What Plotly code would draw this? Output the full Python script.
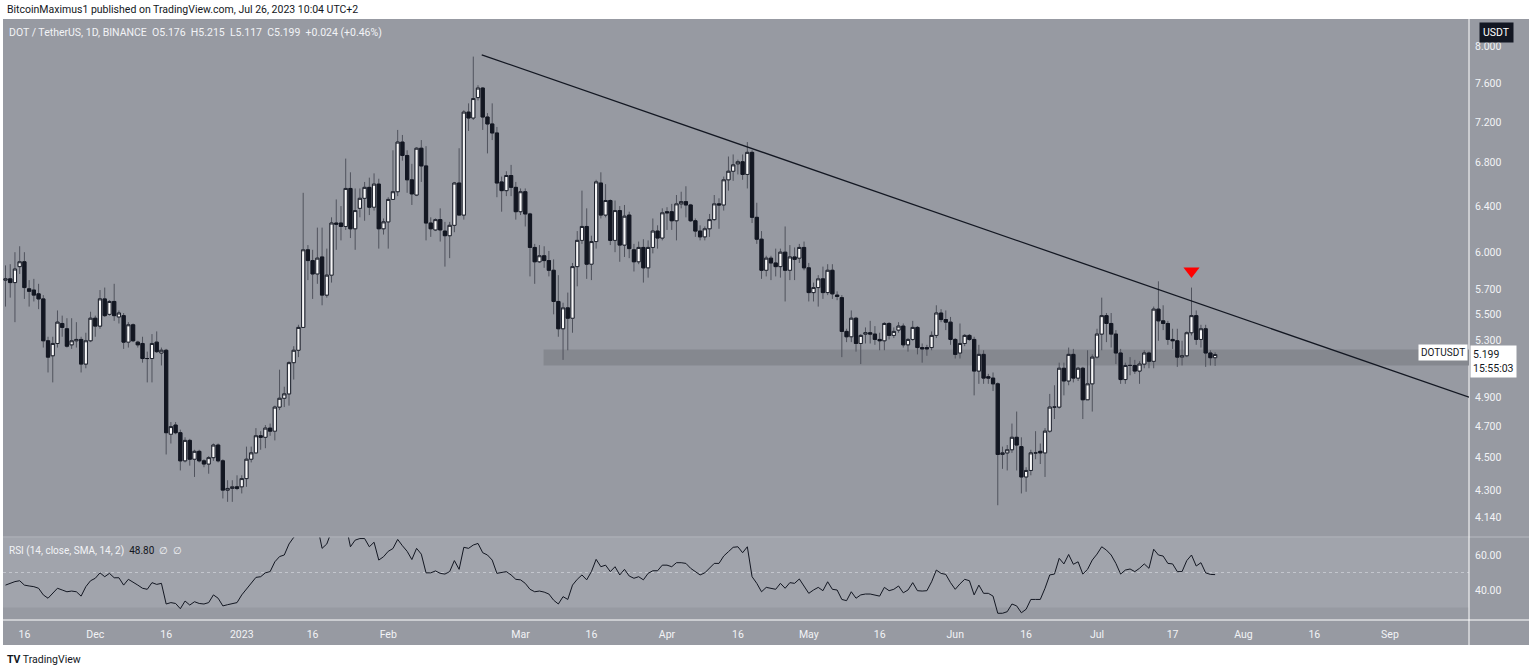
import numpy as np
import pandas as pd
import plotly.graph_objects as go

# ---------------- data ----------------
first_day = "2022-11-12"

opens = [5.77,5.78,5.75,5.88,5.92,5.70,5.69,5.66,5.62,5.30,
         5.19,5.28,5.43,5.39,5.27,5.30,5.31,5.13,5.30,5.47,
         5.41,5.62,5.50,5.60,5.48,5.49,5.29,5.42,5.29,5.28,
         5.17,5.17,5.29,5.21,5.23,4.65,4.71,4.66,4.48,4.61,
         4.49,4.54,4.48,4.46,4.50,4.58,4.48,4.30,4.31,4.32,
         4.32,4.37,4.49,4.53,4.64,4.63,4.69,4.67,4.83,4.89,
         4.92,5.14,5.23,5.40,6.02,5.93,5.82,5.96,5.65,5.81,
         6.25,6.25,6.22,6.56,6.20,6.38,6.47,6.57,6.39,6.60,
         6.20,6.26,6.46,6.53,7.00,6.87,6.64,6.50,6.94,6.77,
         6.25,6.19,6.28,6.18,6.14,6.23,6.61,6.32,7.30,7.24,
         7.45,7.55,7.25,7.18,7.09,6.62,6.54,6.68,6.57,6.35,
         6.53,6.33,6.04,5.92,5.97,5.93,5.85,5.60,5.39,5.55,
         5.47,5.88,6.10,6.22,5.90,6.09,6.61,6.32,6.45,6.10,
         6.36,6.06,6.32,6.02,5.92,6.04,5.87,6.04,6.18,6.12,
         6.35,6.35,6.27,6.42,6.44,6.41,6.27,6.18,6.13,6.20,
         6.28,6.42,6.41,6.64,6.72,6.79,6.81,6.69,6.90,6.30,
         6.11,5.85,5.95,5.91,5.88,6.00,5.85,5.96,5.95,6.04,
         5.87,5.67,5.71,5.78,5.67,5.85,5.65,5.63,5.37,5.33,
         5.47,5.28,5.35,5.36,5.35,5.31,5.30,5.43,5.34,5.38,
         5.41,5.27,5.31,5.40,5.25,5.25,5.25,5.34,5.51,5.46,
         5.44,5.31,5.21,5.28,5.34,5.31,5.08,5.20,5.04,5.03,
         4.99,4.52,4.53,4.55,4.63,4.57,4.38,4.42,4.53,4.54,
         4.53,4.67,4.83,4.83,5.10,5.01,5.20,5.03,5.10,4.88,
         4.99,5.18,5.35,5.49,5.43,5.35,5.21,5.02,5.12,5.12,
         5.08,5.13,5.21,5.15,5.54,5.45,5.43,5.31,5.30,5.18,
         5.19,5.36,5.49,5.31,5.39,5.21,5.176]

highs = [5.89,5.90,6.00,6.05,6.00,5.77,5.78,5.74,5.65,5.33,
         5.33,5.53,5.49,5.47,5.47,5.44,5.33,5.36,5.52,5.49,
         5.69,5.71,5.61,5.74,5.53,5.51,5.44,5.43,5.30,5.33,
         5.22,5.35,5.37,5.25,5.24,4.73,4.73,4.68,4.63,4.62,
         4.55,4.55,4.49,4.51,4.59,4.59,4.49,4.36,4.36,4.39,
         4.39,4.57,4.57,4.69,4.67,4.71,4.72,4.84,5.09,4.97,
         5.15,5.26,5.42,6.52,6.06,6.02,6.21,6.21,6.03,6.30,
         6.46,6.40,6.84,6.71,6.56,6.56,6.62,6.66,6.70,6.65,
         6.29,6.48,6.92,7.12,7.07,6.92,6.79,6.95,7.02,6.96,
         6.30,6.29,6.38,6.26,6.26,6.62,6.94,7.32,7.39,7.89,
         7.58,7.56,7.29,7.39,7.15,6.67,6.72,6.78,6.62,6.56,
         6.56,6.34,6.07,6.06,6.05,6.01,5.94,5.81,5.59,5.67,
         5.91,6.18,6.54,6.38,6.14,6.64,6.71,6.60,6.46,6.45,
         6.40,6.41,6.35,6.07,6.09,6.11,6.10,6.29,6.23,6.38,
         6.39,6.42,6.50,6.53,6.58,6.42,6.29,6.23,6.22,6.33,
         6.50,6.47,6.67,6.86,6.88,6.83,6.88,7.00,6.92,6.43,
         6.18,5.97,5.97,6.03,6.03,6.22,6.06,6.04,6.07,6.09,
         5.91,5.75,5.81,5.88,5.90,5.90,5.68,5.65,5.39,5.53,
         5.48,5.35,5.40,5.45,5.41,5.36,5.44,5.44,5.40,5.44,
         5.43,5.32,5.45,5.41,5.28,5.27,5.37,5.57,5.54,5.53,
         5.48,5.32,5.43,5.35,5.35,5.33,5.27,5.23,5.06,5.07,
         5.00,4.57,4.58,4.72,4.80,4.63,4.44,4.55,4.67,4.59,
         4.69,4.92,4.98,5.14,5.14,5.25,5.24,5.11,5.11,5.23,
         5.20,5.39,5.63,5.51,5.51,5.38,5.24,5.14,5.18,5.16,
         5.15,5.23,5.22,5.56,5.76,5.57,5.45,5.39,5.39,5.30,
         5.37,5.71,5.53,5.42,5.42,5.23,5.215]

lows = [5.56,5.63,5.44,5.82,5.62,5.56,5.60,5.54,5.25,5.07,
        5.00,5.25,5.33,5.25,5.24,5.25,5.07,5.10,5.29,5.33,
        5.39,5.48,5.49,5.45,5.43,5.24,5.25,5.29,5.25,5.14,
        5.00,5.00,5.21,5.12,4.52,4.59,4.65,4.42,4.47,4.45,
        4.38,4.47,4.44,4.40,4.48,4.47,4.25,4.23,4.23,4.30,
        4.28,4.32,4.47,4.53,4.55,4.56,4.64,4.61,4.81,4.83,
        4.84,5.02,5.18,5.40,5.77,5.62,5.74,5.57,5.63,5.75,
        6.02,6.10,6.19,6.12,6.02,6.30,6.27,6.32,6.36,6.03,
        6.15,6.03,6.46,6.49,6.82,6.52,6.41,6.49,6.62,6.10,
        6.13,6.18,6.09,5.88,5.95,6.17,6.32,6.28,7.11,7.22,
        7.42,7.12,6.89,7.02,6.48,6.35,6.49,6.49,6.28,6.32,
        6.22,5.80,5.74,5.91,5.87,5.80,5.50,5.33,5.16,5.23,
        5.36,5.72,6.07,5.78,5.77,6.03,6.29,6.30,6.06,6.00,
        5.92,5.96,5.95,5.84,5.90,5.75,5.79,5.99,6.03,6.10,
        6.19,6.19,6.10,6.38,6.30,6.26,6.13,6.10,6.10,6.13,
        6.27,6.20,6.36,6.54,6.63,6.69,6.64,6.56,6.25,6.07,
        5.78,5.80,5.77,5.80,5.79,5.60,5.77,5.77,5.91,5.85,
        5.60,5.60,5.56,5.62,5.65,5.62,5.61,5.18,5.29,5.29,
        5.22,5.13,5.28,5.28,5.27,5.23,5.23,5.31,5.32,5.36,
        5.25,5.22,5.30,5.20,5.14,5.19,5.23,5.32,5.44,5.38,
        5.27,5.17,5.17,5.26,5.30,4.91,4.99,4.99,4.99,4.94,
        4.21,4.43,4.42,4.53,4.42,4.28,4.29,4.39,4.49,4.46,
        4.38,4.66,4.75,4.82,4.91,4.98,5.00,5.01,4.75,4.88,
        4.80,5.17,5.23,5.29,5.25,5.13,4.99,4.99,5.05,5.06,
        4.99,5.10,5.10,5.10,5.30,5.38,5.27,5.24,5.11,5.12,
        5.18,5.34,5.27,5.25,5.11,5.12,5.117]

closes = [5.78,5.75,5.86,5.92,5.71,5.68,5.65,5.62,5.30,5.18,
          5.28,5.44,5.40,5.26,5.30,5.31,5.13,5.30,5.47,5.41,
          5.62,5.49,5.60,5.49,5.51,5.29,5.42,5.30,5.27,5.17,
          5.17,5.28,5.22,5.23,4.66,4.70,4.66,4.48,4.61,4.49,
          4.54,4.48,4.46,4.50,4.58,4.48,4.30,4.31,4.32,4.31,
          4.37,4.49,4.53,4.64,4.63,4.69,4.67,4.83,4.89,4.92,
          5.14,5.23,5.40,6.02,5.93,5.82,5.95,5.65,5.81,6.25,
          6.24,6.22,6.56,6.20,6.36,6.47,6.57,6.39,6.60,6.20,
          6.26,6.46,6.53,7.00,6.87,6.64,6.51,6.94,6.77,6.25,
          6.20,6.28,6.19,6.14,6.23,6.61,6.32,7.30,7.24,7.44,
          7.55,7.25,7.18,7.09,6.61,6.54,6.68,6.57,6.35,6.53,
          6.33,6.04,5.92,5.97,5.93,5.85,5.60,5.39,5.55,5.47,
          5.88,6.10,6.22,5.90,6.09,6.62,6.32,6.45,6.10,6.36,
          6.06,6.31,6.03,5.92,6.04,5.87,6.04,6.18,6.12,6.34,
          6.34,6.27,6.42,6.44,6.41,6.27,6.18,6.13,6.20,6.28,
          6.42,6.41,6.64,6.72,6.78,6.81,6.69,6.90,6.30,6.11,
          5.85,5.95,5.91,5.88,6.00,5.85,5.96,5.94,6.04,5.87,
          5.67,5.71,5.78,5.67,5.85,5.66,5.64,5.37,5.33,5.47,
          5.28,5.34,5.36,5.35,5.31,5.30,5.43,5.34,5.37,5.41,
          5.27,5.31,5.40,5.25,5.24,5.24,5.34,5.51,5.46,5.44,
          5.31,5.20,5.28,5.34,5.31,5.08,5.20,5.03,5.03,4.99,
          4.52,4.53,4.55,4.63,4.58,4.38,4.42,4.53,4.53,4.53,
          4.67,4.83,4.83,5.10,5.01,5.20,5.03,5.10,4.88,4.99,
          5.18,5.35,5.49,5.43,5.35,5.21,5.02,5.12,5.12,5.08,
          5.13,5.21,5.15,5.54,5.45,5.43,5.31,5.30,5.18,5.19,
          5.36,5.49,5.31,5.39,5.21,5.176,5.199]

rsi_values = [42.8,43.8,44.8,45.3,42.8,42.3,41.9,41.0,37.2,35.3,
              38.1,41.0,40.0,39.0,39.4,39.0,36.5,41.9,45.3,46.7,
              49.8,47.6,49.5,47.0,47.0,42.8,46.1,44.2,42.8,41.0,
              40.4,44.2,43.2,43.8,32.0,32.8,32.3,29.3,33.7,31.4,
              33.3,32.3,32.0,32.8,37.2,35.3,30.9,31.6,32.3,32.8,
              37.2,40.4,43.5,47.2,47.6,49.8,50.5,56.1,59.1,60.0,
              66.3,70.1,72.6,81.0,77.8,74.7,76.8,63.8,66.3,73.6,
              73.6,72.6,77.8,64.7,68.5,69.4,69.4,64.7,67.3,57.1,
              59.0,62.1,63.7,68.9,65.3,62.1,57.4,63.8,60.5,49.8,
              49.8,50.9,49.5,49.1,50.5,56.8,51.8,64.4,63.8,65.7,
              66.6,61.3,60.0,57.1,49.5,49.8,50.5,48.6,46.1,45.8,
              43.8,40.4,39.0,39.4,38.8,37.7,34.2,32.0,36.2,34.6,
              42.8,46.1,48.6,45.8,50.5,57.5,53.3,54.2,50.5,53.3,
              48.6,51.8,48.0,46.7,47.6,45.8,49.5,51.0,51.0,54.2,
              54.2,53.3,55.6,55.6,55.2,52.4,50.5,48.6,49.8,52.4,
              55.2,55.2,59.4,61.9,64.4,64.7,61.3,64.7,47.6,43.8,
              39.0,41.5,41.0,40.4,43.8,41.0,44.2,43.8,46.3,42.3,
              38.1,40.0,41.5,39.6,44.7,40.4,40.0,34.6,33.9,39.0,
              35.3,37.2,37.7,37.7,37.2,36.5,41.5,39.6,40.4,42.3,
              38.4,40.0,44.2,39.6,39.4,39.6,44.7,51.4,49.5,48.9,
              44.2,40.4,43.5,46.1,45.3,37.2,42.8,38.1,38.1,36.5,
              26.7,26.7,27.6,32.0,30.9,27.0,29.0,34.6,34.6,34.6,
              41.0,48.6,49.1,58.1,54.9,60.3,54.7,56.1,49.1,51.8,
              57.1,60.5,64.7,62.8,60.0,55.2,49.1,51.4,52.0,50.5,
              52.4,54.9,52.4,63.3,60.0,59.4,55.2,54.9,50.5,50.5,
              56.8,60.0,53.7,55.6,49.8,48.9,48.8]

trend_dates = ["2023-02-20 19:00", "2023-09-17 17:31"]
trend_prices = [7.91, 4.897]

zone_dates = ["2023-03-05 21:00", "2023-09-17 17:31"]
zone_prices = [5.12, 5.235]

signal_dates = ["2023-07-21"]
signal_prices = [5.844]

price_ticks = [4.14, 4.3, 4.5, 4.7, 4.9, 5.3, 5.5, 5.7, 6.0, 6.4, 6.8, 7.2, 7.6, 8.0]
rsi_ticks = [40, 60]
rsi_band = [30, 70]
rsi_mid = 50
date_ticks = ["2022-11-16", "2022-12-01", "2022-12-16", "2023-01-01", "2023-01-16",
              "2023-02-01", "2023-03-01", "2023-03-16", "2023-04-01", "2023-04-16",
              "2023-05-01", "2023-05-16", "2023-06-01", "2023-06-16", "2023-07-01",
              "2023-07-17", "2023-08-01", "2023-08-16", "2023-09-01"]
date_labels = ["16", "Dec", "16", "2023", "16", "Feb", "Mar", "16", "Apr", "16",
               "May", "16", "Jun", "16", "Jul", "17", "Aug", "16", "Sep"]

view_range = ["2022-11-11 11:17", "2023-09-17 17:31"]

# ---------------- styling ----------------
BG = "#979aa2"
ZONE = "#85888f"
RSI_BAND = "#a1a4ac"
TXT_L = "#f2f3f6"
TXT_D = "#131722"
WICK = "#50535d"
FONT = "Roboto, Arial, sans-serif"

dates = pd.date_range(first_day, periods=len(closes), freq="D")
o = np.array(opens)
c = np.array(closes)
body_hi = np.maximum(o, c)
body_lo = np.minimum(o, c)

fig = go.Figure()

# wicks
fig.add_trace(go.Candlestick(
    x=dates, open=opens, high=highs, low=lows, close=closes,
    increasing=dict(line=dict(color=WICK, width=1), fillcolor="rgba(0,0,0,0)"),
    decreasing=dict(line=dict(color=WICK, width=1), fillcolor="rgba(0,0,0,0)"),
    hoverinfo="none", showlegend=False, xaxis="x", yaxis="y"))
# bodies
fig.add_trace(go.Candlestick(
    x=dates, open=opens, high=body_hi, low=body_lo, close=closes,
    increasing=dict(line=dict(color="#1e222d", width=1), fillcolor="#f7f7f8"),
    decreasing=dict(line=dict(color="#131722", width=1), fillcolor="#131722"),
    hoverinfo="none", showlegend=False, xaxis="x", yaxis="y"))

# trend line
fig.add_trace(go.Scatter(x=trend_dates, y=trend_prices, mode="lines",
                         line=dict(color="#131722", width=1.3), hoverinfo="none",
                         showlegend=False, xaxis="x", yaxis="y"))
# red signal triangle
fig.add_trace(go.Scatter(x=signal_dates, y=signal_prices, mode="markers",
                         marker=dict(symbol="triangle-down", size=14, color="#ff0000",
                                     line=dict(width=0)),
                         hoverinfo="none", showlegend=False, xaxis="x", yaxis="y"))
# RSI
fig.add_trace(go.Scatter(x=dates, y=rsi_values, mode="lines",
                         line=dict(color="#131722", width=1), hoverinfo="none",
                         showlegend=False, xaxis="x2", yaxis="y2"))

W, H = 1529, 671
ML, MR, MT, MB = 3, 60, 20, 51
PW, PH = W - ML - MR, H - MT - MB


def px(xp):
    return (xp - ML) / PW


def py(yp):
    return (H - MB - yp) / PH


shapes = [
    # chart gray background (incl. scales)
    dict(type="rect", xref="paper", yref="paper", x0=px(3), x1=px(1529), y0=py(645), y1=py(19),
         fillcolor=BG, line=dict(width=0), layer="below"),
    # RSI band
    dict(type="rect", xref="x2 domain", yref="y2", x0=0, x1=1, y0=rsi_band[0], y1=rsi_band[1],
         fillcolor=RSI_BAND, line=dict(width=0), layer="below"),
    # RSI midline
    dict(type="line", xref="x2 domain", yref="y2", x0=0, x1=1, y0=rsi_mid, y1=rsi_mid,
         line=dict(color="#c3c6cd", width=1, dash="dot"), layer="below"),
    # support zone
    dict(type="rect", xref="x", yref="y", x0=zone_dates[0], x1=zone_dates[1],
         y0=zone_prices[0], y1=zone_prices[1], fillcolor=ZONE, line=dict(width=0), layer="below"),
    # pane separator
    dict(type="line", xref="paper", yref="paper", x0=px(3), x1=px(1529), y0=py(537), y1=py(537),
         line=dict(color="#b6b9c0", width=1), layer="below"),
    # scale borders
    dict(type="line", xref="paper", yref="paper", x0=1, x1=1, y0=py(645), y1=py(19),
         line=dict(color="#ffffff", width=1), layer="below"),
    dict(type="line", xref="paper", yref="paper", x0=px(3), x1=px(1529), y0=0, y1=0,
         line=dict(color="#ffffff", width=1), layer="below"),
]

annotations = [
    dict(xref="paper", yref="paper", x=px(5), y=py(9), xanchor="left", yanchor="middle",
         text="BitcoinMaximus1 published on TradingView.com, Jul 26, 2023 10:04 UTC+2",
         showarrow=False, font=dict(family=FONT, size=10.5, color=TXT_D)),
    dict(xref="paper", yref="paper", x=px(7), y=py(32), xanchor="left", yanchor="middle",
         text="DOT / TetherUS, 1D, BINANCE  O5.176  H5.215  L5.117  C5.199  +0.024 (+0.46%)",
         showarrow=False, font=dict(family=FONT, size=10.5, color=TXT_L)),
    dict(xref="paper", yref="paper", x=px(7), y=py(551), xanchor="left", yanchor="middle",
         text="RSI (14, close, SMA, 14, 2)  <span style='color:#131722'>48.80</span>  ∅  ∅",
         showarrow=False, font=dict(family=FONT, size=10, color=TXT_L)),
    dict(xref="paper", yref="paper", x=px(1496), y=py(33), xanchor="center", yanchor="middle",
         text="USDT", showarrow=False, bgcolor="#131722", borderpad=3,
         font=dict(family=FONT, size=10.5, color="#ffffff")),
    dict(xref="paper", yref="paper", x=px(1468), y=py(352.5), xanchor="right", yanchor="middle",
         text="DOTUSDT", showarrow=False, bgcolor="#ffffff", borderpad=2,
         font=dict(family=FONT, size=10, color=TXT_D)),
    dict(xref="paper", yref="paper", x=px(1470), y=py(345), xanchor="left", yanchor="top",
         text=f"{closes[-1]:.3f}<br>15:55:03", align="left", showarrow=False,
         bgcolor="#ffffff", borderpad=2, font=dict(family=FONT, size=10.5, color=TXT_D)),
    dict(xref="paper", yref="paper", x=px(5), y=py(659), xanchor="left", yanchor="middle",
         text="<b>TV</b> TradingView", showarrow=False,
         font=dict(family=FONT, size=10.5, color=TXT_D)),
]

axis_common = dict(showgrid=False, zeroline=False, showline=False)

fig.update_layout(
    width=W, height=H,
    margin=dict(l=ML, r=MR, t=MT, b=MB, autoexpand=False),
    paper_bgcolor="#ffffff", plot_bgcolor="rgba(0,0,0,0)",
    showlegend=False, hovermode=False,
    font=dict(family=FONT, size=11, color=TXT_L),
    boxgap=0.15, boxgroupgap=0.2,
    xaxis=dict(domain=[0, 1], range=view_range, anchor="y", showticklabels=False,
               rangeslider=dict(visible=False), ticks="", **axis_common),
    yaxis=dict(domain=[py(536.5), 1], type="log",
               range=[np.log10(4.0296), np.log10(8.305)],
               side="right", anchor="x", tickvals=price_ticks,
               ticktext=[f"{v:.3f}" for v in price_ticks], ticks="",
               ticklabelstandoff=5, tickfont=dict(family=FONT, size=10.5, color=TXT_L),
               **axis_common),
    xaxis2=dict(domain=[0, 1], range=view_range, anchor="y2", matches="x",
                tickvals=date_ticks, ticktext=date_labels, ticks="",
                ticklabelstandoff=6, tickfont=dict(family=FONT, size=10.5, color=TXT_L),
                **axis_common),
    yaxis2=dict(domain=[0, py(537.5)], range=[22.857, 70], side="right", anchor="x2",
                tickvals=rsi_ticks, ticktext=[f"{v:.2f}" for v in rsi_ticks], ticks="",
                ticklabelstandoff=5, tickfont=dict(family=FONT, size=10.5, color=TXT_L),
                **axis_common),
    shapes=shapes,
    annotations=annotations,
)

fig.write_html("out.html",
               config={"displayModeBar": False, "staticPlot": True},
               post_script="document.body.style.margin='0';document.body.style.padding='0';")
